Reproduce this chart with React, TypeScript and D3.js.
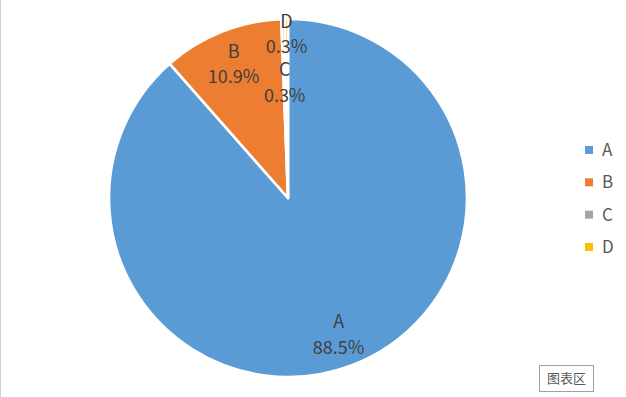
import { useEffect, useRef } from "react";
import * as d3 from "d3";

const categories = ["A", "B", "C", "D"];
const values = [88.5, 10.9, 0.3, 0.3];
const colors = ["#5B9BD5", "#ED7D31", "#A5A5A5", "#FFC000"];
// label radius factor per slice (Excel nudges the tiny slices apart)
const labelRadius = [0.8, 0.82, 0.66, 0.93];

export default function App() {
  const svgRef = useRef<SVGSVGElement>(null);

  useEffect(() => {
    if (!svgRef.current) return;
    const W = 626;
    const H = 397;
    const cx = 288;
    const cy = 198;
    const r = 179;
    const font = "'Noto Sans CJK SC', 'Noto Sans', sans-serif";

    const svg = d3.select(svgRef.current);
    svg.selectAll("*").remove();
    svg.attr("width", W).attr("height", H);

    svg.append("rect").attr("width", W).attr("height", H).attr("fill", "#fff");
    svg.append("line")
      .attr("x1", 0.5).attr("x2", 0.5).attr("y1", 0).attr("y2", H)
      .attr("stroke", "#d0d0d0").attr("stroke-width", 1);

    const data = categories.map((c, i) => ({ cat: c, value: values[i], i }));
    const pie = d3.pie<typeof data[0]>().value(d => d.value).sort(null);
    const arcs = pie(data);
    const arc = d3.arc<d3.PieArcDatum<typeof data[0]>>().innerRadius(0).outerRadius(r);

    const g = svg.append("g").attr("transform", `translate(${cx},${cy})`);

    g.selectAll("path.slice")
      .data(arcs)
      .join("path")
      .attr("class", "slice")
      .attr("d", arc)
      .attr("fill", d => colors[d.data.i])
      .attr("stroke", "#fff")
      .attr("stroke-width", 2.6)
      .attr("stroke-linejoin", "round");

    // data labels
    const fmt = d3.format(".1f");
    arcs.forEach(d => {
      const mid = (d.startAngle + d.endAngle) / 2;
      const lr = r * labelRadius[d.data.i];
      const x = Math.sin(mid) * lr;
      const y = -Math.cos(mid) * lr;
      const t = g.append("text")
        .attr("x", x).attr("y", y)
        .attr("text-anchor", "middle")
        .attr("font-family", font)
        .attr("font-size", 18)
        .attr("fill", "#404040");
      t.append("tspan").attr("x", x).attr("dy", "-0.2em").text(d.data.cat);
      t.append("tspan").attr("x", x).attr("dy", "1.4em").text(fmt(d.data.value) + "%");
    });

    // legend
    const lg = svg.append("g").attr("transform", "translate(585,150)");
    const step = d3.scalePoint<string>().domain(categories).range([0, 97]);
    categories.forEach((c, i) => {
      const y = step(c)!;
      lg.append("rect")
        .attr("x", 0).attr("y", y - 4).attr("width", 8).attr("height", 8)
        .attr("fill", colors[i]);
      lg.append("text")
        .attr("x", 17).attr("y", y)
        .attr("dy", "0.36em")
        .attr("font-family", font)
        .attr("font-size", 17)
        .attr("fill", "#595959")
        .text(c);
    });

    // "chart area" tooltip
    const tip = svg.append("g").attr("transform", "translate(539.5,365.5)");
    tip.append("rect")
      .attr("width", 54).attr("height", 26)
      .attr("fill", "#fff").attr("stroke", "#a0a0a0");
    tip.append("text")
      .attr("x", 27).attr("y", 13).attr("dy", "0.36em")
      .attr("text-anchor", "middle")
      .attr("font-family", font)
      .attr("font-size", 13)
      .attr("fill", "#595959")
      .text("图表区");
  }, []);

  return (
    <svg ref={svgRef} style={{ position: "absolute", left: 0, top: 0, display: "block" }} />
  );
}
